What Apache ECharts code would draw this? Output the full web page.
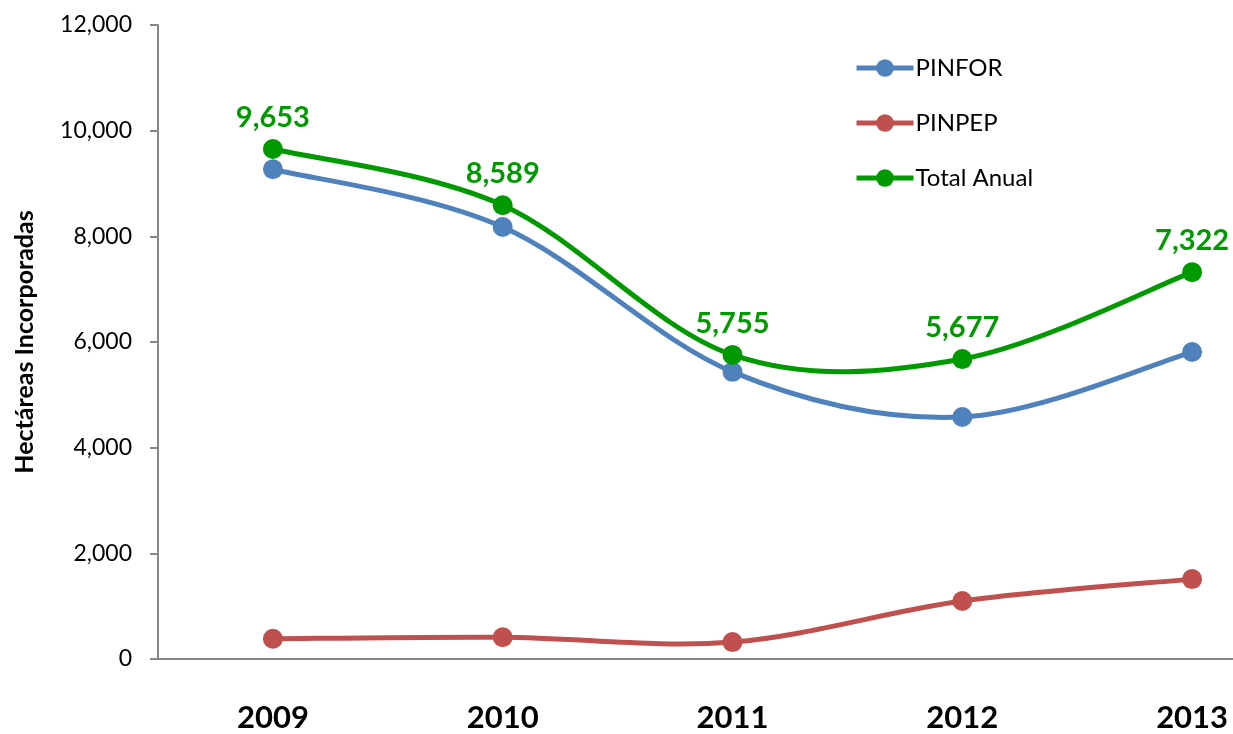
<!DOCTYPE html>
<html>
<head>
<meta charset="utf-8">
<script src="https://cdn.jsdelivr.net/npm/echarts@6/dist/echarts.min.js"></script>
<style>
  html, body { margin: 0; padding: 0; background: #fff; }
  #chart { width: 1233px; height: 734px; }
</style>
</head>
<body>
<div id="chart"></div>
<script>
// datos
const years = ['2009', '2010', '2011', '2012', '2013'];
const pinfor = [9270, 8177, 5435, 4580, 5810];
const pinpep = [383, 412, 320, 1097, 1512];
const totalAnual = [9653, 8589, 5755, 5677, 7322];
const yTicks = [0, 2000, 4000, 6000, 8000, 10000, 12000];

const font = 'Lato, "Open Sans", sans-serif';
const axisGray = '#868686';

const chart = echarts.init(document.getElementById('chart'));

// curva suavizada tipo Excel (Catmull-Rom), puntos via api.coord
function curveSeries(values, color) {
    const n = values.length;
    return {
        name: '_curva',
        type: 'custom',
        data: values.map((v, i) => [i, v]),
        z: 1,
        silent: true,
        renderItem: function (params, api) {
            const i = params.dataIndex;
            if (i >= n - 1) return null;
            const pt = k => {
                const j = Math.max(0, Math.min(n - 1, k));
                return api.coord([j, values[j]]);
            };
            const p0 = pt(i - 1), p1 = pt(i), p2 = pt(i + 1), p3 = pt(i + 2);
            return {
                type: 'bezierCurve',
                shape: {
                    x1: p1[0], y1: p1[1],
                    x2: p2[0], y2: p2[1],
                    cpx1: p1[0] + (p2[0] - p0[0]) / 6,
                    cpy1: p1[1] + (p2[1] - p0[1]) / 6,
                    cpx2: p2[0] - (p3[0] - p1[0]) / 6,
                    cpy2: p2[1] - (p3[1] - p1[1]) / 6
                },
                style: { stroke: color, lineWidth: 5, fill: null, lineCap: 'round' }
            };
        }
    };
}

function pointSeries(name, data, color, withLabel) {
    return {
        name: name,
        type: 'line',
        data: data,
        z: 3,
        symbol: 'circle',
        symbolSize: 20,
        lineStyle: { width: 5, color: color, opacity: 0 },
        itemStyle: { color: color },
        label: {
            show: withLabel,
            position: 'top',
            distance: 7,
            color: color,
            fontFamily: font,
            fontWeight: 'bold',
            fontSize: 29,
            formatter: p => p.value.toLocaleString('en-US')
        },
        emphasis: { disabled: true }
    };
}

const option = {
    animation: false,
    backgroundColor: '#fff',
    // el eje x sigue mas alla del borde derecho, como en el original
    grid: { left: 158, top: 25, right: -74, bottom: 75, outerBoundsMode: 'none' },
    legend: {
        orient: 'vertical',
        left: 849,
        top: 51,
        itemWidth: 57,
        itemHeight: 22,
        itemGap: 31,
        lineStyle: { width: 5, opacity: 1 },
        textStyle: { fontFamily: font, fontSize: 24, color: '#000', padding: [0, 0, 0, -3] },
        data: ['PINFOR', 'PINPEP', 'Total Anual']
    },
    xAxis: {
        type: 'category',
        data: years,
        boundaryGap: true,
        axisLine: { lineStyle: { color: axisGray, width: 2 } },
        axisTick: { show: false },
        axisLabel: {
            margin: 43,
            color: '#000',
            fontFamily: font,
            fontWeight: 'bold',
            fontSize: 31
        }
    },
    yAxis: {
        type: 'value',
        min: yTicks[0],
        max: yTicks[yTicks.length - 1],
        interval: 2000,
        name: 'Hectáreas Incorporadas',
        nameLocation: 'middle',
        nameGap: 121,
        nameTextStyle: { fontFamily: font, fontWeight: 'bold', fontSize: 25, color: '#000' },
        axisLine: { show: true, lineStyle: { color: axisGray, width: 2 } },
        axisTick: { show: true, inside: false, length: 8, lineStyle: { color: axisGray, width: 2 } },
        splitLine: { show: false },
        axisLabel: {
            margin: 26,
            color: '#000',
            fontFamily: font,
            fontSize: 23,
            formatter: v => v.toLocaleString('en-US')
        }
    },
    series: [
        curveSeries(pinfor, '#4F81BD'),
        curveSeries(pinpep, '#C0504D'),
        curveSeries(totalAnual, '#009900'),
        pointSeries('PINFOR', pinfor, '#4F81BD', false),
        pointSeries('PINPEP', pinpep, '#C0504D', false),
        pointSeries('Total Anual', totalAnual, '#009900', true)
    ]
};

chart.setOption(option);
</script>
</body>
</html>
